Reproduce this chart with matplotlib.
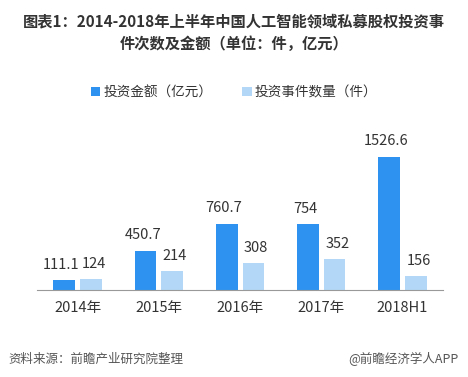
import matplotlib
matplotlib.use('Agg')
import matplotlib.pyplot as plt
import numpy as np

plt.rcParams['font.family'] = ['Noto Sans CJK SC', 'DejaVu Sans']

categories = ['2014年', '2015年', '2016年', '2017年', '2018H1']
amount = [111.1, 450.7, 760.7, 754, 1526.6]
count = [124, 214, 308, 352, 156]
amount_labels = ['111.1', '450.7', '760.7', '754', '1526.6']
count_labels = ['124', '214', '308', '352', '156']

fig = plt.figure(figsize=(4.68, 3.77), dpi=100)
ax = fig.add_axes([0.079, 0.231, 0.868, 0.463])

x = np.arange(len(categories))
w = 0.267
b1 = ax.bar(x - w / 2 - 0.03, amount, w, color='#2E93F0', label='投资金额（亿元）')
b2 = ax.bar(x + w / 2 + 0.03, count, w, color='#B3D8F7', label='投资事件数量（件）')

for bars, labels, dx in [(b1, amount_labels, -2), (b2, count_labels, 2)]:
    for bar, lab in zip(bars, labels):
        ax.annotate(lab, (bar.get_x() + bar.get_width() / 2, bar.get_height()),
                    xytext=(dx, 6), textcoords='offset points', ha='center', va='bottom',
                    fontsize=10.5, color='#333333')

ax.set_xlim(-0.5, 4.5)
ax.set_ylim(0, 2000)
ax.set_xticks(x)
ax.set_xticklabels(categories, fontsize=10.5, color='#333333')
ax.tick_params(axis='x', length=0, pad=8)
ax.set_yticks([])
for s in ['top', 'right', 'left']:
    ax.spines[s].set_visible(False)
ax.spines['bottom'].set_color('#999999')

fig.legend(loc='center', bbox_to_anchor=(0.5, 0.755), ncol=2, frameon=False,
           fontsize=9.8, handlelength=0.7, handleheight=0.7, handletextpad=0.2,
           columnspacing=2.2, labelcolor='#333333')

fig.text(0.5, 0.913, '图表1：2014-2018年上半年中国人工智能领域私募股权投资事\n件次数及金额（单位：件，亿元）',
         ha='center', va='center', fontsize=11, fontweight='bold', color='#333333',
         linespacing=1.5)

fig.text(0.017, 0.048, '资料来源：前瞻产业研究院整理', ha='left', va='center',
         fontsize=9, style='italic', color='#555555')
fig.text(0.98, 0.048, '@前瞻经济学人APP', ha='right', va='center',
         fontsize=9, color='#555555')

fig.savefig('out.png', dpi=100)
